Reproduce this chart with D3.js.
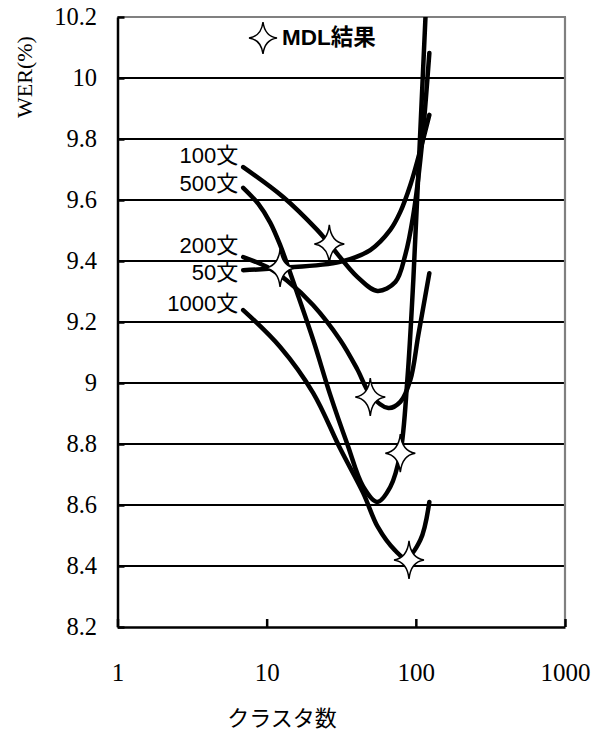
<!DOCTYPE html>
<html>
<head>
<meta charset="utf-8">
<script src="https://cdn.jsdelivr.net/npm/d3@7"></script>
<style>
  html, body { margin: 0; padding: 0; background: #fff; }
  svg { display: block; }
</style>
</head>
<body>
<svg id="chart" width="605" height="731"></svg>
<script>
// ---- data ----
const seriesNames = ["100文", "500文", "200文", "50文", "1000文"];

const clusters100 = [6.96, 12.9, 21.8, 26.3, 40.5, 55.2, 72.9, 85.0, 96.2, 108.9, 123.2];
const wer100      = [9.708, 9.610, 9.502, 9.456, 9.348, 9.302, 9.331, 9.420, 9.551, 9.764, 10.082];

const clusters500 = [6.96, 8.77, 10.56, 12.32, 13.94, 16.02, 20.52, 26.68, 34.7, 44.4, 55.2, 67.4, 78.7, 87.7, 96.2, 115.8, 123.2];
const wer500      = [9.640, 9.588, 9.526, 9.452, 9.380, 9.295, 9.141, 8.961, 8.800, 8.660, 8.610, 8.659, 8.770, 9.010, 9.338, 10.190, 10.452];

const clusters200 = [6.96, 10.08, 13.73, 20.52, 31.1, 40.5, 49.5, 65.4, 78.7, 91.9, 103.9, 123.2];
const wer200      = [9.413, 9.380, 9.335, 9.255, 9.141, 9.045, 8.962, 8.918, 8.938, 9.010, 9.157, 9.360];

const clusters50 = [6.96, 12.32, 31.1, 49.5, 67.4, 78.7, 91.9, 107.2, 123.2];
const wer50      = [9.370, 9.377, 9.397, 9.436, 9.502, 9.561, 9.649, 9.764, 9.879];

const clusters1000 = [6.96, 12.32, 20.52, 31.1, 44.4, 55.6, 72.3, 85.7, 107.2, 123.2];
const wer1000      = [9.239, 9.118, 8.967, 8.785, 8.639, 8.528, 8.452, 8.426, 8.485, 8.610];

// MDL-selected points (one per series, same order as seriesNames)
const mdlClusters = [26.3, 78.7, 49.5, 12.3, 90];
const mdlWER      = [9.456, 8.770, 8.954, 9.377, 8.420];

// label anchor (WER value where each series label is centred)
const labelWER = [9.748, 9.656, 9.452, 9.364, 9.262];

const xTicks = [1, 10, 100, 1000];
const yTicks = [8.2, 8.4, 8.6, 8.8, 9.0, 9.2, 9.4, 9.6, 9.8, 10.0, 10.2];
const xTitle = "クラスタ数";
const yTitle = "WER(%)";
const legendText = "MDL結果";

// ---- drawing ----
(function () {
const SERIF = "'Liberation Serif', 'Times New Roman', serif";
const SANS = "'Liberation Sans', Arial, 'Noto Sans CJK JP', sans-serif";
const CJK = "'Noto Sans CJK JP', sans-serif";

const svg = d3.select("#chart");
svg.append("rect").attr("width", 605).attr("height", 731).attr("fill", "#fff");

const pL = 117.5, pR = 565, pT = 17, pB = 627;
const x = d3.scaleLog().domain([1, 1000]).range([pL, pR]);
const y = d3.scaleLinear().domain([8.2, 10.2]).range([pB, pT]);

const series = [
  { name: seriesNames[0], xs: clusters100, ys: wer100 },
  { name: seriesNames[1], xs: clusters500, ys: wer500 },
  { name: seriesNames[2], xs: clusters200, ys: wer200 },
  { name: seriesNames[3], xs: clusters50, ys: wer50 },
  { name: seriesNames[4], xs: clusters1000, ys: wer1000 }
];

// gridlines
svg.append("g").selectAll("line")
  .data(yTicks.filter(v => v > 8.2 + 1e-9 && v < 10.2 - 1e-9))
  .join("line")
  .attr("x1", pL).attr("x2", pR)
  .attr("y1", d => y(d)).attr("y2", d => y(d))
  .attr("stroke", "#000").attr("stroke-width", 2);

// top and right border (grey)
svg.append("line").attr("x1", pL).attr("x2", pR + 1).attr("y1", pT).attr("y2", pT)
  .attr("stroke", "#808080").attr("stroke-width", 2.2);
svg.append("line").attr("x1", pR).attr("x2", pR).attr("y1", pT).attr("y2", pB)
  .attr("stroke", "#808080").attr("stroke-width", 2.2);

// y axis
const yAxis = d3.axisLeft(y).tickValues(yTicks).tickSize(-7).tickSizeOuter(0).tickPadding(20.5)
  .tickFormat(d => String(+d.toFixed(1)));
const gy = svg.append("g").attr("transform", `translate(${pL},0)`).call(yAxis);
gy.attr("font-family", SERIF).attr("font-size", 24);
gy.select(".domain").attr("stroke", "#000").attr("stroke-width", 2.5);
gy.selectAll(".tick line").attr("stroke", "#000").attr("stroke-width", 2.5);
gy.selectAll(".tick text").attr("font-family", SERIF).style("font-family", SERIF)
  .style("font-size", "24.5px").attr("fill", "#000");

// x axis
const xAxis = d3.axisBottom(x).tickValues(xTicks).tickSize(-8).tickSizeOuter(0).tickPadding(36)
  .tickFormat(d3.format("d"));
const gx = svg.append("g").attr("transform", `translate(0,${pB})`).call(xAxis);
gx.attr("font-family", SERIF).attr("font-size", 25);
gx.select(".domain").attr("stroke", "#000").attr("stroke-width", 2.5);
gx.selectAll(".tick line").attr("stroke", "#000").attr("stroke-width", 2.5);
gx.selectAll(".tick text").attr("font-family", SERIF).style("font-family", SERIF)
  .style("font-size", "25px").attr("fill", "#000");

// axis titles
svg.append("text").attr("x", 282).attr("y", 726).attr("text-anchor", "middle")
  .attr("font-family", CJK).style("font-size", "22px")
  .text(xTitle);
svg.append("text").attr("transform", "translate(32,77) rotate(-90)").attr("text-anchor", "middle")
  .attr("font-family", SERIF).style("font-family", SERIF).style("font-size", "22px")
  .text(yTitle);

// clip for curves
svg.append("clipPath").attr("id", "plotclip").append("rect")
  .attr("x", pL).attr("y", pT).attr("width", pR - pL).attr("height", pB - pT);

const line = d3.line()
  .x(d => x(d[0])).y(d => y(d[1]))
  .curve(d3.curveCatmullRom.alpha(0.5));

svg.append("g").attr("clip-path", "url(#plotclip)")
  .selectAll("path").data(series).join("path")
  .attr("d", s => line(s.xs.map((v, i) => [v, s.ys[i]])))
  .attr("fill", "none").attr("stroke", "#000").attr("stroke-width", 4.5)
  .attr("stroke-linecap", "round").attr("stroke-linejoin", "round");

// series labels
svg.append("g").selectAll("text").data(series).join("text")
  .attr("x", (s) => x(s.xs[0]) - 5)
  .attr("y", (s, i) => y(labelWER[i]))
  .attr("dy", "0.36em")
  .attr("text-anchor", "end")
  .attr("font-family", SANS).style("font-size", "22px").attr("fill", "#000")
  .text(s => s.name);

// star symbol (thin four-pointed sparkle)
function starPath(w, h, a) {
  return `M0,${-h} Q${a},${-a} ${w},0 Q${a},${a} 0,${h} Q${-a},${a} ${-w},0 Q${-a},${-a} 0,${-h} Z`;
}

svg.append("g").selectAll("path").data(mdlClusters).join("path")
  .attr("transform", (d, i) => `translate(${x(d)},${y(mdlWER[i])})`)
  .attr("d", starPath(15, 19, 1.8))
  .attr("fill", "#fff").attr("stroke", "#000").attr("stroke-width", 1.5)
  .attr("stroke-linejoin", "miter");

// legend
svg.append("path").attr("transform", "translate(263,38)")
  .attr("d", starPath(14, 16, 1.8))
  .attr("fill", "#fff").attr("stroke", "#000").attr("stroke-width", 1.5);
svg.append("text").attr("x", 282).attr("y", 45)
  .attr("font-family", SANS).attr("font-weight", "bold").style("font-size", "22.5px")
  .text(legendText);
})();
</script>
</body>
</html>
